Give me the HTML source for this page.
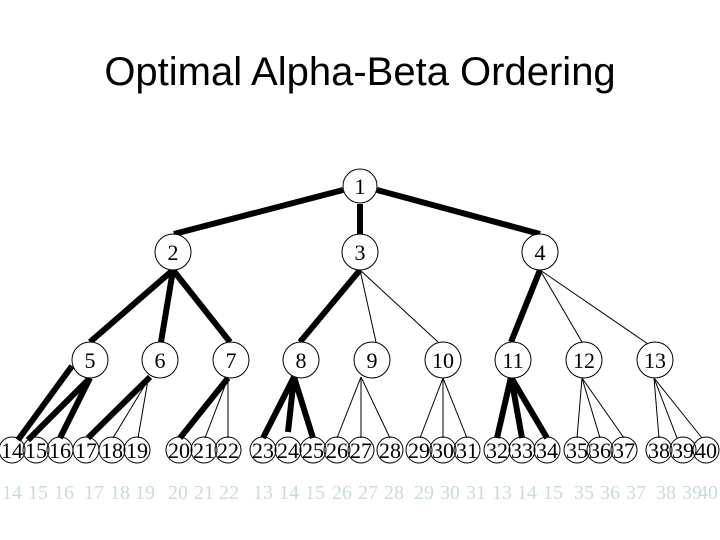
<!DOCTYPE html>
<html><head><meta charset="utf-8"><style>
html,body{margin:0;padding:0;background:#fff;}
svg{display:block}
</style></head><body>
<svg width="720" height="540" viewBox="0 0 720 540" xmlns="http://www.w3.org/2000/svg">
<text x="360" y="85" text-anchor="middle" font-family="Liberation Sans, sans-serif" font-size="40" fill="#000">Optimal Alpha-Beta Ordering</text>
<g stroke="#000" stroke-linecap="butt" fill="none">
<!-- level 1 -->
<line x1="343" y1="190" x2="174" y2="234" stroke-width="6"/>
<line x1="360" y1="204" x2="360" y2="234" stroke-width="6"/>
<line x1="377" y1="190" x2="540" y2="234" stroke-width="6"/>
<!-- level 2 -->
<line x1="173" y1="270" x2="90" y2="342" stroke-width="6"/>
<line x1="173" y1="270" x2="161" y2="342" stroke-width="6"/>
<line x1="173" y1="270" x2="230" y2="342" stroke-width="6"/>
<line x1="360" y1="270" x2="300" y2="342" stroke-width="6"/>
<line x1="360" y1="270" x2="376" y2="342" stroke-width="1"/>
<line x1="360" y1="270" x2="438" y2="342" stroke-width="1"/>
<line x1="540" y1="270" x2="511" y2="342" stroke-width="6"/>
<line x1="540" y1="270" x2="582" y2="342" stroke-width="1"/>
<line x1="540" y1="270" x2="648" y2="344" stroke-width="1"/>
<!-- level 3 to leaves -->
<line x1="72" y1="366" x2="18" y2="440" stroke-width="6"/>
<line x1="90" y1="378" x2="28" y2="440" stroke-width="6"/>
<line x1="90" y1="378" x2="60" y2="438" stroke-width="6"/>
<line x1="150" y1="377" x2="88" y2="438" stroke-width="6"/>
<line x1="148" y1="380" x2="113" y2="438" stroke-width="1"/>
<line x1="148" y1="380" x2="138" y2="438" stroke-width="1"/>
<line x1="228" y1="378" x2="180" y2="438" stroke-width="6"/>
<line x1="228" y1="378" x2="205" y2="438" stroke-width="1"/>
<line x1="228" y1="378" x2="228" y2="438" stroke-width="1"/>
<line x1="294" y1="377" x2="263" y2="438" stroke-width="6"/>
<line x1="294" y1="377" x2="288" y2="432" stroke-width="6"/>
<line x1="294" y1="377" x2="313" y2="438" stroke-width="6"/>
<line x1="361" y1="377" x2="337" y2="438" stroke-width="1"/>
<line x1="361" y1="377" x2="361" y2="438" stroke-width="1"/>
<line x1="361" y1="377" x2="390" y2="438" stroke-width="1"/>
<line x1="443" y1="378" x2="420" y2="438" stroke-width="1"/>
<line x1="443" y1="378" x2="443" y2="438" stroke-width="1"/>
<line x1="443" y1="378" x2="467" y2="438" stroke-width="1"/>
<line x1="511" y1="377" x2="497" y2="438" stroke-width="6"/>
<line x1="511" y1="377" x2="522" y2="438" stroke-width="6"/>
<line x1="511" y1="377" x2="547" y2="438" stroke-width="6"/>
<line x1="582" y1="378" x2="577" y2="438" stroke-width="1"/>
<line x1="582" y1="378" x2="600" y2="438" stroke-width="1"/>
<line x1="582" y1="378" x2="624" y2="438" stroke-width="1"/>
<line x1="654" y1="378" x2="659" y2="438" stroke-width="1"/>
<line x1="654" y1="378" x2="677" y2="438" stroke-width="1"/>
<line x1="654" y1="378" x2="702" y2="438" stroke-width="1"/>
</g>
<g fill="#fff" stroke="#000" stroke-width="1">
<circle cx="360" cy="186" r="17"/>
<circle cx="173" cy="252" r="18"/><circle cx="360" cy="252" r="18"/><circle cx="540" cy="252" r="18"/>
<circle cx="90" cy="360" r="18"/><circle cx="160" cy="360" r="18"/><circle cx="231" cy="360" r="18"/>
<circle cx="301" cy="360" r="18"/><circle cx="372" cy="360" r="18"/><circle cx="443" cy="360" r="18"/>
<circle cx="513" cy="360" r="18"/><circle cx="584" cy="360" r="18"/><circle cx="655" cy="360" r="18"/>
</g>
<g font-family="Liberation Serif, serif" font-size="22" text-anchor="middle" fill="#000">
<text x="360" y="194">1</text>
<text x="173" y="260">2</text><text x="360" y="260">3</text><text x="540" y="260">4</text>
<text x="90" y="368">5</text><text x="160" y="368">6</text><text x="231" y="368">7</text>
<text x="301" y="368">8</text><text x="372" y="368">9</text><text x="443" y="368">10</text>
<text x="513" y="368">11</text><text x="584" y="368">12</text><text x="655" y="368">13</text>
</g>
<g fill="none" stroke="#000" stroke-width="1">
<circle cx="12" cy="450" r="13"/><circle cx="36" cy="450" r="13"/><circle cx="60" cy="450" r="13"/>
<circle cx="86" cy="450" r="13"/><circle cx="112" cy="450" r="13"/><circle cx="137" cy="450" r="13"/>
<circle cx="179" cy="450" r="13"/><circle cx="204" cy="450" r="13"/><circle cx="228" cy="450" r="13"/>
<circle cx="263" cy="450" r="13"/><circle cx="288" cy="450" r="13"/><circle cx="313" cy="450" r="13"/>
<circle cx="337" cy="450" r="13"/><circle cx="361" cy="450" r="13"/><circle cx="390" cy="450" r="13"/>
<circle cx="419" cy="450" r="13"/><circle cx="443" cy="450" r="13"/><circle cx="467" cy="450" r="13"/>
<circle cx="497" cy="450" r="13"/><circle cx="522" cy="450" r="13"/><circle cx="547" cy="450" r="13"/>
<circle cx="577" cy="450" r="13"/><circle cx="600" cy="450" r="13"/><circle cx="624" cy="450" r="13"/>
<circle cx="659" cy="450" r="13"/><circle cx="683" cy="450" r="13"/><circle cx="706" cy="450" r="13"/>
</g>
<g font-family="Liberation Serif, serif" font-size="22" text-anchor="middle" fill="#000">
<text x="12" y="458">14</text><text x="36" y="458">15</text><text x="60" y="458">16</text>
<text x="86" y="458">17</text><text x="112" y="458">18</text><text x="137" y="458">19</text>
<text x="179" y="458">20</text><text x="204" y="458">21</text><text x="228" y="458">22</text>
<text x="263" y="458">23</text><text x="288" y="458">24</text><text x="313" y="458">25</text>
<text x="337" y="458">26</text><text x="361" y="458">27</text><text x="390" y="458">28</text>
<text x="419" y="458">29</text><text x="443" y="458">30</text><text x="467" y="458">31</text>
<text x="497" y="458">32</text><text x="522" y="458">33</text><text x="547" y="458">34</text>
<text x="577" y="458">35</text><text x="600" y="458">36</text><text x="624" y="458">37</text>
<text x="659" y="458">38</text><text x="683" y="458">39</text><text x="706" y="458">40</text>
</g>
<g font-family="Liberation Serif, serif" font-size="20" text-anchor="middle" fill="#c8dcdf">
<text x="12" y="499">14</text><text x="38" y="499">15</text><text x="64" y="499">16</text>
<text x="94" y="499">17</text><text x="120" y="499">18</text><text x="145" y="499">19</text>
<text x="178" y="499">20</text><text x="204" y="499">21</text><text x="229" y="499">22</text>
<text x="263" y="499">13</text><text x="289" y="499">14</text><text x="315" y="499">15</text>
<text x="342" y="499">26</text><text x="368" y="499">27</text><text x="394" y="499">28</text>
<text x="424" y="499">29</text><text x="450" y="499">30</text><text x="476" y="499">31</text>
<text x="502" y="499">13</text><text x="527" y="499">14</text><text x="553" y="499">15</text>
<text x="584" y="499">35</text><text x="610" y="499">36</text><text x="636" y="499">37</text>
<text x="666" y="499">38</text><text x="692" y="499">39</text><text x="708" y="499">40</text>
</g>
</svg>
</body></html>
